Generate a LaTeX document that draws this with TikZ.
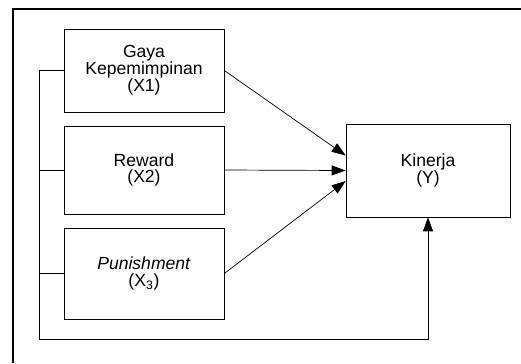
\documentclass[tikz,border=0pt]{standalone}
\usepackage{fontspec}
\setmainfont{Liberation Sans}
\usetikzlibrary{arrows.meta, positioning}

\begin{document}
\begin{tikzpicture}[x=0.02cm,y=-0.02cm,
  kotak/.style={draw, align=center, inner sep=0pt, font=\fontsize{10}{9.6}\selectfont},
  panah/.style={-{Triangle[length=0.28cm,width=0.2cm]}}]
\useasboundingbox (0,0) rectangle (521,363);
%bingkai
\draw[line width=0.8pt] (13,363) -- (13,9) -- (521,9);
%variabel
\node[kotak, minimum width=3.2cm, minimum height=1.66cm] (x1) at (144,70.5) {Gaya\\Kepemimpinan\\(X1)};
\node[kotak, minimum width=3.2cm, minimum height=1.76cm] (x2) at (144,170) {Reward\\(X2)};
\node[kotak, minimum width=3.2cm, minimum height=1.82cm] (x3) at (144,273.5) {\textit{Punishment}\\(X\textsubscript{3})};
\node[kotak, minimum width=3.28cm, minimum height=1.86cm] (y) at (428,170.5) {Kinerja\\(Y)};
%panah
\draw[panah] (x1.east) -- ([yshift=0.3cm]y.west);
\draw[panah] (x2.east) -- (y.west);
\draw[panah] (x3.east) -- ([yshift=-0.21cm]y.west);
%garis simultan
\coordinate (atas) at (39,70.5);
\coordinate (bawah) at (39,339);
\draw[panah] (x1.west) -- (atas) -- (bawah) -| (y.south);
\draw (x2.west) -- (x2.west -| atas);
\draw (x3.west) -- (x3.west -| atas);

\end{tikzpicture}
\end{document}
